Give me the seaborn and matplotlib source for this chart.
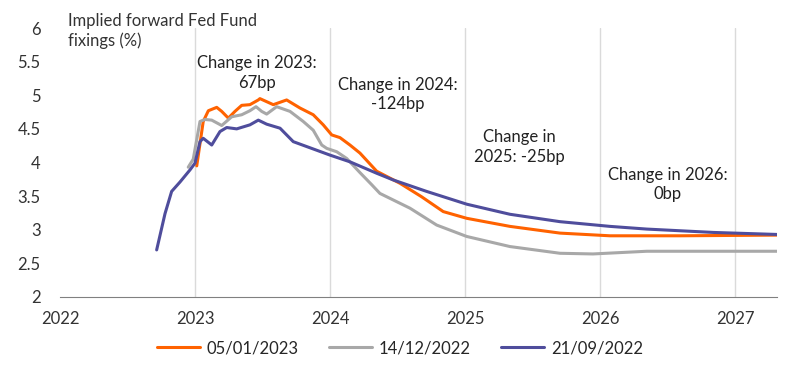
import matplotlib
matplotlib.use("Agg")
import matplotlib.pyplot as plt
import pandas as pd
import seaborn as sns

# decimal years / implied Fed Funds rate (%)
orange_x = [2023.013, 2023.061, 2023.099, 2023.161, 2023.198, 2023.247, 2023.296, 2023.346,
            2023.407, 2023.469, 2023.481, 2023.58, 2023.679, 2023.778, 2023.876, 2023.95,
            2024.013, 2024.074, 2024.148, 2024.222, 2024.346, 2024.519, 2024.679, 2024.839,
            2025.013, 2025.333, 2025.704, 2026.074, 2026.593, 2027.311]
orange_y = [3.95, 4.61, 4.77, 4.82, 4.76, 4.66, 4.76, 4.85, 4.86, 4.93, 4.95, 4.86, 4.93,
            4.81, 4.71, 4.56, 4.41, 4.37, 4.26, 4.14, 3.87, 3.69, 3.49, 3.27, 3.17, 3.05,
            2.95, 2.91, 2.91, 2.92]

gray_x = [2022.95, 2022.987, 2023.037, 2023.074, 2023.124, 2023.198, 2023.272, 2023.346,
          2023.407, 2023.452, 2023.494, 2023.531, 2023.605, 2023.704, 2023.802, 2023.876,
          2023.939, 2023.976, 2024.05, 2024.124, 2024.222, 2024.309, 2024.37, 2024.593,
          2024.79, 2025.013, 2025.333, 2025.704, 2025.948, 2026.346, 2027.311]
gray_y = [3.93, 4.05, 4.61, 4.64, 4.63, 4.55, 4.68, 4.71, 4.77, 4.83, 4.76, 4.72, 4.83,
          4.76, 4.61, 4.48, 4.26, 4.21, 4.16, 4.06, 3.85, 3.67, 3.54, 3.32, 3.07, 2.90,
          2.75, 2.65, 2.64, 2.68, 2.68]

blue_x = [2022.716, 2022.778, 2022.827, 2022.889, 2022.963, 2023.0, 2023.037, 2023.061,
          2023.124, 2023.185, 2023.235, 2023.309, 2023.407, 2023.469, 2023.531, 2023.63,
          2023.728, 2024.0, 2024.148, 2024.346, 2024.469, 2024.716, 2025.013, 2025.333,
          2025.704, 2026.074, 2026.346, 2026.839, 2027.311]
blue_y = [2.70, 3.24, 3.57, 3.71, 3.89, 3.99, 4.31, 4.36, 4.26, 4.46, 4.52, 4.50, 4.56,
          4.63, 4.57, 4.51, 4.31, 4.11, 4.01, 3.84, 3.74, 3.57, 3.38, 3.23, 3.12, 3.05,
          3.01, 2.96, 2.93]

labels = ["05/01/2023", "14/12/2022", "21/09/2022"]
colors = ["#FF6200", "#A8A8A8", "#4F4D9C"]
years = [2022, 2023, 2024, 2025, 2026, 2027]
notes = ["Change in 2023:\n67bp", "Change in 2024:\n-124bp", "Change in\n2025: -25bp",
         "Change in 2026:\n0bp"]
note_x = [2023.46, 2024.50, 2025.40, 2026.50]
note_y = [5.33, 5.01, 4.23, 3.67]

sns.set_style("white")
plt.rcParams['font.family'] = ['Lato', 'DejaVu Sans']

fig = plt.figure(figsize=(8, 3.71), dpi=100)
ax = fig.add_axes([0.075, 0.1995, 0.896, 0.725])

series = [(orange_x, orange_y), (gray_x, gray_y), (blue_x, blue_y)]
for (xs, ys), lab, col in zip(series, labels, colors):
    df = pd.DataFrame({"x": xs, "y": ys})
    sns.lineplot(data=df, x="x", y="y", color=col, lw=2.2, label=lab, ax=ax, sort=False,
                 solid_joinstyle="round", solid_capstyle="round")

ax.set_xlim(2022, 2027.31)
ax.set_ylim(2, 6)
ax.set_xticks(years)
ax.set_xticklabels([str(y) for y in years])
ax.set_yticks([2, 2.5, 3, 3.5, 4, 4.5, 5, 5.5, 6])
ax.set_yticklabels(["2", "2.5", "3", "3.5", "4", "4.5", "5", "5.5", "6"])
ax.set_xlabel("")
ax.set_ylabel("")
for y in years[1:]:
    ax.axvline(y, color="#DADADA", lw=1, zorder=0)
for s in ["top", "right", "left"]:
    ax.spines[s].set_visible(False)
ax.spines["bottom"].set_color("#808080")
ax.tick_params(axis="x", length=4, color="#808080", labelsize=12, pad=6, labelcolor="#333333")
ax.tick_params(axis="y", length=0, labelsize=12, pad=14, labelcolor="#333333")

fig.text(68 / 800, 1 - 31 / 371, "Implied forward Fed Fund\nfixings (%)", fontsize=12,
         color="#333333", va="center", ha="left", linespacing=1.3)

for px, py, t in zip(note_x, note_y, notes):
    ax.text(px, py, t, fontsize=12, color="#222222", ha="center", va="center", linespacing=1.25)

ax.legend_.remove()
handles, labs = ax.get_legend_handles_labels()
fig.legend(handles, labs, loc="center", bbox_to_anchor=(0.5, 1 - 348 / 371), ncol=3,
           frameon=False, fontsize=12, handlelength=2.6, columnspacing=1.8, handletextpad=0.4)

fig.savefig("out.png", dpi=100)
